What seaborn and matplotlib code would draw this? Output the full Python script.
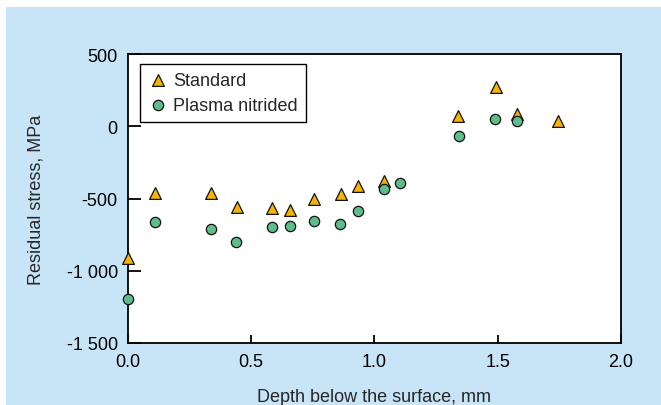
import numpy as np
import pandas as pd
import seaborn as sns
import matplotlib
matplotlib.use("Agg")
import matplotlib.pyplot as plt
from matplotlib.patches import Rectangle
from matplotlib.ticker import FuncFormatter

# Residual stress profiles (depth in mm, stress in MPa)
standard_depth = [0.0, 0.11, 0.34, 0.445, 0.585, 0.66, 0.755, 0.865, 0.935, 1.04, 1.34, 1.495, 1.58, 1.745]
standard_stress = [-910, -460, -460, -560, -565, -580, -505, -470, -415, -380, 70, 275, 85, 35]

nitrided_depth = [0.0, 0.11, 0.34, 0.44, 0.585, 0.66, 0.755, 0.86, 0.935, 1.04, 1.105, 1.345, 1.49, 1.58]
nitrided_stress = [-1195, -660, -708, -798, -696, -689, -657, -678, -585, -431, -391, -68, 50, 38]

series_names = ["Standard", "Plasma nitrided"]
x_ticks = [0.0, 0.5, 1.0, 1.5, 2.0]
y_ticks = [-1500, -1000, -500, 0, 500]

df = pd.concat([
    pd.DataFrame({"depth": standard_depth, "stress": standard_stress, "series": series_names[0]}),
    pd.DataFrame({"depth": nitrided_depth, "stress": nitrided_stress, "series": series_names[1]}),
], ignore_index=True)

sns.set_style("ticks")
plt.rcParams["font.family"] = ["Liberation Sans", "DejaVu Sans"]

FS = 13

W, H = 661, 406
fig = plt.figure(figsize=(W / 100, H / 100), dpi=100, facecolor="white")
fig.patches.append(Rectangle((6 / W, 0), 1 - 6 / W, 1 - 8 / H, transform=fig.transFigure,
                             facecolor="#c8e5f8", edgecolor="none", zorder=-10))

ax = fig.add_axes([127.5 / W, (H - 344) / H, (621 - 127.5) / W, (344 - 55) / H])
ax.set_facecolor("white")

orange = "#f4b400"
green = "#5fbd8c"
palette = {series_names[0]: orange, series_names[1]: green}
markers = {series_names[0]: "^", series_names[1]: "o"}
sizes = {series_names[0]: 72, series_names[1]: 55}

for name in series_names:
    sns.scatterplot(data=df[df["series"] == name], x="depth", y="stress",
                    color=palette[name], marker=markers[name], s=sizes[name],
                    edgecolor="#111111", linewidth=0.9, ax=ax, label=name,
                    zorder=3, clip_on=False)

ax.set_xlim(0, 2.0)
ax.set_ylim(-1500, 500)
ax.set_xticks(x_ticks)
ax.set_yticks(y_ticks)
ax.xaxis.set_major_formatter(FuncFormatter(lambda v, p: f"{v:.1f}"))
ax.yaxis.set_major_formatter(FuncFormatter(lambda v, p: f"{int(v):,}".replace(",", " ")))

for s in ax.spines.values():
    s.set_color("black")
    s.set_linewidth(1.3)

ax.tick_params(axis="y", direction="in", length=9, width=1.3, labelsize=FS, pad=7, colors="black")
ax.tick_params(axis="x", direction="in", length=5.5, width=1.3, labelsize=FS, pad=7, colors="black")

ax.set_xlabel("Depth below the surface, mm", fontsize=FS, labelpad=13)
ax.set_ylabel("Residual stress, MPa", fontsize=FS, labelpad=16)

leg = ax.legend(loc="upper left", bbox_to_anchor=(0.026, 0.966), frameon=True, fancybox=False,
                fontsize=FS, handletextpad=0.25, borderpad=0.45, labelspacing=0.45,
                handlelength=1.1, borderaxespad=0)
leg.get_frame().set_edgecolor("black")
leg.get_frame().set_linewidth(1.0)
leg.get_frame().set_alpha(1)

fig.savefig("out.png", dpi=100, facecolor=fig.get_facecolor())
